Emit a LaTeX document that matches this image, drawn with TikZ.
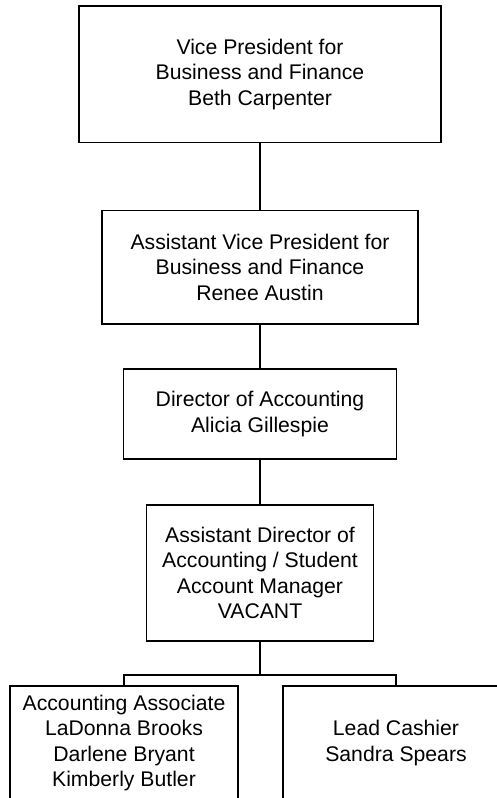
\documentclass[tikz,border=0pt]{standalone}
\usepackage{fontspec}
\setmainfont{Liberation Sans}
\usepackage{tikz}
\usetikzlibrary{positioning}
\newcommand{\orgfont}{\fontsize{21.2}{25.5}\selectfont}

\begin{document}
\begin{tikzpicture}[x=1pt, y=-1pt,
    orgbox/.style={draw, line width=1.3pt, align=center, inner sep=0pt, font=\orgfont},
    orgline/.style={line width=1.3pt}]
    \useasboundingbox (0,0) rectangle (497,798);
    \clip (0,0) rectangle (497,798);
    % chain of boxes down the middle
    \node[orgbox, minimum width=362pt, minimum height=136.7pt] (vp) at (260,74.3)
        {Vice President for\\Business and Finance\\Beth Carpenter};
    \node[orgbox, minimum width=316pt, minimum height=113.3pt] (avp) at (260,267.3)
        {Assistant Vice President for\\Business and Finance\\Renee Austin};
    \node[orgbox, minimum width=273pt, minimum height=90pt] (director) at (260,414)
        {Director of Accounting\\Alicia Gillespie};
    \node[orgbox, minimum width=227pt, minimum height=136pt] (asstdir) at (260,573)
        {Assistant Director of\\Accounting / Student\\Account Manager\\VACANT};
    % bottom row
    \node[orgbox, minimum width=228pt, minimum height=114pt] (associate) at (124,743)
        {Accounting Associate\\LaDonna Brooks\\Darlene Bryant\\Kimberly Butler};
    \node[orgbox, minimum width=226pt, minimum height=114pt] (cashier) at (396,743)
        {Lead Cashier\\Sandra Spears};
    \coordinate (split) at (260,675);
    \draw[orgline] (vp) -- (avp);
    \draw[orgline] (avp) -- (director);
    \draw[orgline] (director) -- (asstdir);
    \draw[orgline] (asstdir) -- (split);
    \draw[orgline] (associate.north) |- (split) -| (cashier.north);
\end{tikzpicture}
\end{document}
